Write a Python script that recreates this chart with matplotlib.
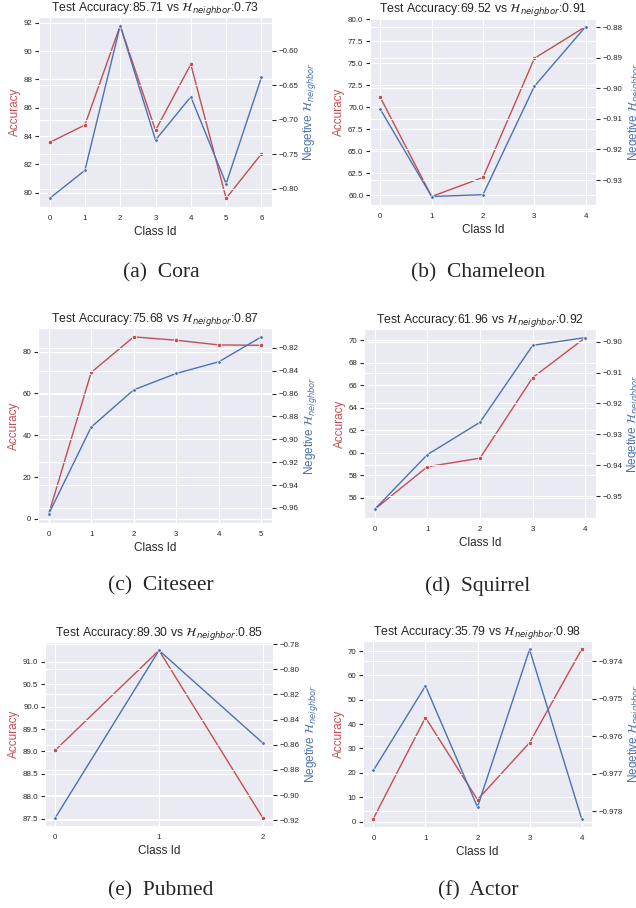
import numpy as np
import matplotlib
matplotlib.use('Agg')
import matplotlib.pyplot as plt
import seaborn as sns

# per-class accuracy and negative neighbor entropy
names = ['Cora', 'Chameleon', 'Citeseer', 'Squirrel', 'Pubmed', 'Actor']
letters = ['a', 'b', 'c', 'd', 'e', 'f']
test_acc = ['85.71', '69.52', '75.68', '61.96', '89.30', '35.79']
h_neighbor = ['0.73', '0.91', '0.87', '0.92', '0.85', '0.98']

acc_cora = [83.55, 84.78, 91.8, 84.4, 89.07, 79.6, 82.74]
neg_h_cora = [-0.814, -0.7735, -0.564, -0.7296, -0.667, -0.7928, -0.639]

acc_chameleon = [71.12, 59.88, 62.04, 75.54, 79.15]
neg_h_chameleon = [-0.9068, -0.9354, -0.9348, -0.8993, -0.8797]

acc_citeseer = [2.3, 70.06, 87.05, 85.45, 83.2, 83.0]
neg_h_citeseer = [-0.9654, -0.8893, -0.8567, -0.8424, -0.8322, -0.8104]

acc_squirrel = [54.96, 58.75, 59.52, 66.69, 70.24]
neg_h_squirrel = [-0.9543, -0.9366, -0.9261, -0.9012, -0.8987]

acc_pubmed = [89.03, 91.26, 87.52]
neg_h_pubmed = [-0.9179, -0.785, -0.8585]

acc_actor = [1.22, 42.7, 8.97, 32.35, 70.68]
neg_h_actor = [-0.97691, -0.97466, -0.977885, -0.97369, -0.97819]

accs = [acc_cora, acc_chameleon, acc_citeseer, acc_squirrel, acc_pubmed, acc_actor]
neg_hs = [neg_h_cora, neg_h_chameleon, neg_h_citeseer, neg_h_squirrel, neg_h_pubmed, neg_h_actor]

sns.set_style('darkgrid')
plt.rcParams['font.family'] = ['Liberation Sans', 'DejaVu Sans']
plt.rcParams['ytick.left'] = True
plt.rcParams['ytick.right'] = True
plt.rcParams['ytick.major.size'] = 2.8
plt.rcParams['ytick.major.width'] = 0.8
plt.rcParams['xtick.bottom'] = False

red = '#C44E52'
blue = '#4C72B0'

W, H = 636, 908
fig = plt.figure(figsize=(W / 100, H / 100), dpi=100)

# axes boxes in pixels: left, top, right, bottom
boxes = [(39, 17, 272, 207), (370, 18, 596, 205),
         (38, 328, 272, 523), (364, 329, 596, 518),
         (45, 642, 273, 826), (363, 641, 592, 827)]
caption_y = [273, 273, 586, 586, 891, 891]
caption_x = [161, 478]

for i in range(6):
    l, t, r, b = boxes[i]
    ax = fig.add_axes([l / W, 1 - b / H, (r - l) / W, (b - t) / H])
    x = np.arange(len(accs[i]))
    ax.plot(x, accs[i], color=red, lw=1.0, marker='o', ms=3.2,
            mec='white', mew=0.5)
    ax.set_xticks(x)
    ax.tick_params(axis='both', labelsize=5.7, pad=2, colors='.15')
    ax.tick_params(axis='y', right=False)
    ax.set_xlabel('Class Id', fontsize=8.5, labelpad=3)
    ax.set_ylabel('Accuracy', fontsize=8.5, color=red, labelpad=2)
    ax.set_title('Test Accuracy:%s vs $\\mathcal{H}_{neighbor}$:%s' % (test_acc[i], h_neighbor[i]),
                 fontsize=8.8, pad=1.5)

    ax2 = ax.twinx()
    ax2.plot(x, neg_hs[i], color=blue, lw=1.0, marker='o', ms=2.6,
             mec='white', mew=0.5)
    ax2.grid(True, color='white')
    ax2.tick_params(axis='y', left=False, right=True, labelsize=5.7, pad=2, colors='.15')
    ax2.set_ylabel('Negetive $\\mathcal{H}_{neighbor}$', fontsize=8.5, color=blue, labelpad=2)
    for s in ax2.spines.values():
        s.set_visible(False)

    fig.text(caption_x[i % 2] / W, 1 - caption_y[i] / H,
             '(%s)  %s' % (letters[i], names[i]), family='Liberation Serif',
             fontsize=15.5, ha='center', va='center')

fig.savefig('out.png', dpi=100)
